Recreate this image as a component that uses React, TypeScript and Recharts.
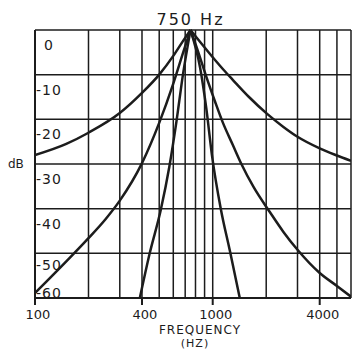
import { LineChart, Line, XAxis, YAxis, CartesianGrid, ReferenceLine } from 'recharts';

const peakFreq = 750;
const gridFreqs = [100, 200, 300, 400, 500, 600, 700, 800, 900, 1000, 2000, 3000, 4000, 5000, 6000];
const labelFreqs = [100, 400, 1000, 4000];
const dbTicks = [0, -10, -20, -30, -40, -50, -60];

// widest response
const wideFreq = [100, 150, 200, 300, 400, 500, 600, 680, 750, 850, 1000, 1150, 1300, 1600, 2040, 2500, 3000, 4000, 5000, 6000];
const wideDb = [-28.0, -25.5, -23.0, -18.6, -14.1, -10.0, -5.8, -2.5, 0, -2.7, -6.1, -8.9, -11.2, -15.0, -18.9, -21.7, -23.9, -26.5, -28.1, -29.3];

// middle response
const midFreq = [100, 150, 200, 250, 300, 400, 500, 600, 680, 750, 830, 923, 1030, 1142, 1300, 1450, 1700, 2100, 2500, 3000, 4000, 5000, 6000];
const midDb = [-58.9, -51.8, -46.6, -42.3, -38.2, -29.8, -20.8, -12.0, -5.2, 0, -5.0, -10.6, -16.0, -20.8, -25.8, -30.0, -35.2, -40.8, -45.2, -49.2, -54.4, -57.3, -59.7];

// narrowest response
const narrowFreq = [389, 442, 510, 570, 625, 680, 750, 850, 920, 990, 1110, 1250, 1420];
const narrowDb = [-60, -50, -40.3, -30.6, -20.5, -10, 0, -8.5, -17.5, -28, -40, -49.5, -60];

const curves = [
  { name: 'wide', freq: wideFreq, db: wideDb },
  { name: 'mid', freq: midFreq, db: midDb },
  { name: 'narrow', freq: narrowFreq, db: narrowDb },
];

// split each curve at the peak so the tip stays sharp
const halves = curves.flatMap((c) => {
  const pts = c.freq.map((f, i) => ({ f, db: c.db[i] }));
  return [
    { key: c.name + '-lo', data: pts.filter((p) => p.f <= peakFreq) },
    { key: c.name + '-hi', data: pts.filter((p) => p.f >= peakFreq) },
  ];
});

const ink = '#1c1c1c';
const font = "'DejaVu Sans', sans-serif";

function FreqTick(props: any) {
  const { x, y, payload } = props;
  if (!labelFreqs.includes(payload.value)) return <g />;
  return (
    <g>
      <line x1={x} x2={x} y1={y} y2={y + 7} stroke={ink} strokeWidth={2} />
      <text x={x + 3} y={y + 21} textAnchor="middle" fontSize={13} fill={ink} fontFamily={font}>
        {payload.value}
      </text>
    </g>
  );
}

function DbTick(props: any) {
  const { x, y, payload } = props;
  const v = payload.value;
  const dy = v === -60 ? -5 : v === -50 ? 12 : 15;
  return (
    <text x={x + 14} y={y + dy} textAnchor="middle" dominantBaseline="central" fontSize={14} letterSpacing={1} fill={ink} fontFamily={font}>
      {v}
    </text>
  );
}

function FreqLabel(props: any) {
  const { viewBox } = props;
  const cx = viewBox.x + viewBox.width / 2 + 7;
  return (
    <g fontFamily={font} fill={ink} textAnchor="middle">
      <text x={cx} y={viewBox.y + 36} fontSize={12} letterSpacing={1}>FREQUENCY</text>
      <text x={cx - 5} y={viewBox.y + 49} fontSize={11} letterSpacing={1}>(HZ)</text>
    </g>
  );
}

export default function App() {
  return (
    <div style={{ position: 'absolute', left: 0, top: 0, width: 355, height: 349, background: '#fff', fontFamily: font }}>
      <LineChart width={355} height={349} margin={{ top: 30, right: 4, left: 0, bottom: 0 }}>
        <CartesianGrid stroke={ink} strokeWidth={1.5} />
        <XAxis
          dataKey="f"
          type="number"
          scale="log"
          domain={[100, 6000]}
          allowDataOverflow
          ticks={gridFreqs}
          interval={0}
          tick={<FreqTick />}
          tickLine={false}
          tickSize={0}
          tickMargin={0}
          height={51}
          axisLine={{ stroke: ink, strokeWidth: 2 }}
          label={<FreqLabel />}
        />
        <YAxis
          type="number"
          domain={[-60, 0]}
          ticks={dbTicks}
          interval={0}
          tick={<DbTick />}
          tickLine={false}
          tickSize={0}
          tickMargin={0}
          width={35}
          axisLine={{ stroke: ink, strokeWidth: 2 }}
          label={{ value: 'dB', position: 'insideLeft', offset: 8, fontSize: 12, fill: ink, fontFamily: font }}
        />
        <ReferenceLine
          x={peakFreq}
          stroke="none"
          label={{ value: '750 Hz', position: 'top', offset: 5, fontSize: 16, letterSpacing: 2, fill: ink, fontFamily: font }}
        />
        {halves.map((h) => (
          <Line
            key={h.key}
            data={h.data}
            dataKey="db"
            type="monotone"
            stroke={ink}
            strokeWidth={2.5}
            dot={false}
            isAnimationActive={false}
          />
        ))}
      </LineChart>
    </div>
  );
}
